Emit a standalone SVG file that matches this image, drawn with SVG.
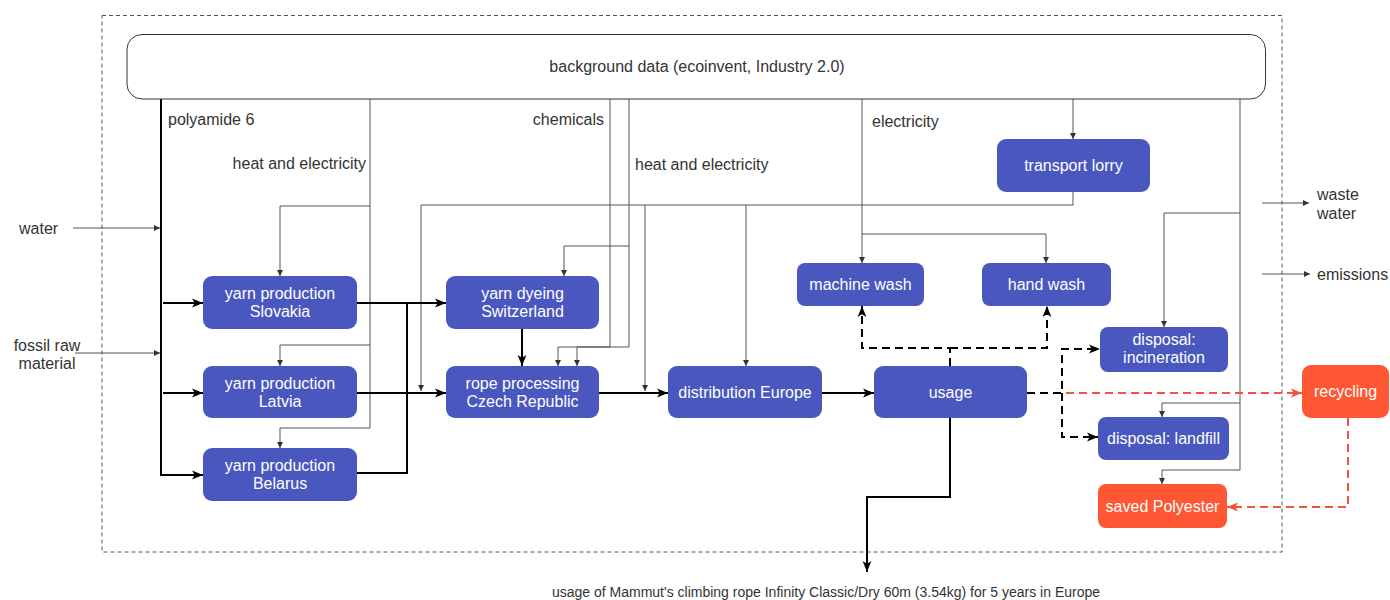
<svg xmlns="http://www.w3.org/2000/svg" width="1390" height="600" viewBox="0 0 1390 600">
<defs>
<style>
text{font-family:"Liberation Sans",Arial,sans-serif;font-size:16px}
.lbl{fill:#333}
.nt{fill:#fff;text-anchor:middle}
.blue{fill:#4957BF}
.orange{fill:#FF5733}
.thin{fill:none;stroke:#555;stroke-width:1}
.thick{fill:none;stroke:#000;stroke-width:2}
.dash{fill:none;stroke:#000;stroke-width:2;stroke-dasharray:8 5}
.rdash{fill:none;stroke:#F0553A;stroke-width:2;stroke-dasharray:8 5}
</style>
<marker id="as" viewBox="0 0 6 6" refX="6" refY="3" markerWidth="6" markerHeight="6" markerUnits="userSpaceOnUse" orient="auto"><path d="M0,0 L6,3 L0,6 z" fill="#333"/></marker>
<marker id="ab" viewBox="0 0 10 10" refX="10" refY="5" markerWidth="11" markerHeight="11" markerUnits="userSpaceOnUse" orient="auto"><path d="M0,1 L10,5 L0,9 L2.5,5 z" fill="#000"/></marker>
<marker id="ar" viewBox="0 0 10 10" refX="10" refY="5" markerWidth="11" markerHeight="11" markerUnits="userSpaceOnUse" orient="auto"><path d="M0,1 L10,5 L0,9 L2.5,5 z" fill="#F0553A"/></marker>
</defs>
<rect width="1390" height="600" fill="#fff"/>
<rect id="boundary" x="102" y="15.5" width="1180" height="536.5" fill="none" stroke="#555" stroke-width="1" stroke-dasharray="4 3"/>

<g id="connectors">
<!-- thin inputs -->
<path class="thin" d="M73,228 H160" marker-end="url(#as)"/>
<path class="thin" d="M75,353 H160" marker-end="url(#as)"/>
<path class="thin" d="M370,99 V428 H280 V448" marker-end="url(#as)"/>
<path class="thin" d="M370,206 H280 V276" marker-end="url(#as)"/>
<path class="thin" d="M370,345 H280 V366" marker-end="url(#as)"/>
<path class="thin" d="M610,99 V347 H558 V366" marker-end="url(#as)"/>
<path class="thin" d="M629,99 V347 H577 V366" marker-end="url(#as)"/>
<path class="thin" d="M629,246 H564 V276" marker-end="url(#as)"/>
<path class="thin" d="M1073,99 V139" marker-end="url(#as)"/>
<path class="thin" d="M1073,192 V205 H421 V391" marker-end="url(#as)"/>
<path class="thin" d="M645,205 V391" marker-end="url(#as)"/>
<path class="thin" d="M746,205 V366" marker-end="url(#as)"/>
<path class="thin" d="M862,99 V263" marker-end="url(#as)"/>
<path class="thin" d="M862,234 H1046 V263" marker-end="url(#as)"/>
<path class="thin" d="M1240,99 V470 H1162 V484" marker-end="url(#as)"/>
<path class="thin" d="M1240,213 H1164 V327" marker-end="url(#as)"/>
<path class="thin" d="M1240,403 H1162 V417" marker-end="url(#as)"/>
<path class="thin" d="M1262,203 H1309" marker-end="url(#as)"/>
<path class="thin" d="M1262,274 H1310" marker-end="url(#as)"/>
<!-- thick main flow -->
<path class="thick" d="M161,99 V475 H203" marker-end="url(#ab)"/>
<path class="thick" d="M163,303 H203" marker-end="url(#ab)"/>
<path class="thick" d="M163,393 H203" marker-end="url(#ab)"/>
<path class="thick" d="M357,303 H446" marker-end="url(#ab)"/>
<path class="thick" d="M357,393 H446" marker-end="url(#ab)"/>
<path class="thick" d="M357,473 H407 V303"/>
<path class="thick" d="M522,329 V366" marker-end="url(#ab)"/>
<path class="thick" d="M599,393 H668" marker-end="url(#ab)"/>
<path class="thick" d="M822,393 H874" marker-end="url(#ab)"/>
<path class="thick" d="M950,418 V497 H867 V572" marker-end="url(#ab)"/>
<!-- dashed -->
<path class="dash" d="M950,366 V348 H862 V306" marker-end="url(#ab)"/>
<path class="dash" d="M950,348 H1047 V306" marker-end="url(#ab)"/>
<path class="rdash" d="M1027,393 H1302" marker-end="url(#ar)"/>
<path class="dash" d="M1027,393 H1062 V349 H1100" marker-end="url(#ab)"/>
<path class="dash" d="M1062,393 V437 H1098" marker-end="url(#ab)"/>
<path class="rdash" d="M1348,418 V507 H1227" marker-end="url(#ar)"/>
</g>

<g id="background-data">
<rect x="127" y="34.5" width="1138.5" height="64.5" rx="15" fill="#fff" stroke="#333" stroke-width="1"/>
<text x="697" y="72" class="lbl" text-anchor="middle">background data (ecoinvent, Industry 2.0)</text>
</g>

<g id="labels">
<text x="168" y="125" class="lbl">polyamide 6</text>
<text x="366" y="169" class="lbl" text-anchor="end">heat and electricity</text>
<text x="604" y="125" class="lbl" text-anchor="end">chemicals</text>
<text x="635" y="170" class="lbl">heat and electricity</text>
<text x="872" y="127" class="lbl">electricity</text>
<text x="19" y="233.5" class="lbl">water</text>
<text x="47" y="351" class="lbl" text-anchor="middle">fossil raw</text>
<text x="47" y="369" class="lbl" text-anchor="middle">material</text>
<text x="1317" y="200" class="lbl">waste</text>
<text x="1317" y="219" class="lbl">water</text>
<text x="1317" y="280" class="lbl">emissions</text>
<text x="826" y="597" class="lbl" text-anchor="middle" style="font-size:14px">usage of Mammut's climbing rope Infinity Classic/Dry 60m (3.54kg) for 5 years in Europe</text>
</g>

<g id="yarn-slovakia">
<rect x="203" y="276" width="154" height="53" rx="9" class="blue"/>
<text x="280" y="299" class="nt">yarn production</text>
<text x="280" y="317" class="nt">Slovakia</text>
</g>
<g id="yarn-latvia">
<rect x="203" y="366" width="154" height="52" rx="9" class="blue"/>
<text x="280" y="388.5" class="nt">yarn production</text>
<text x="280" y="406.5" class="nt">Latvia</text>
</g>
<g id="yarn-belarus">
<rect x="203" y="448" width="154" height="53" rx="9" class="blue"/>
<text x="280" y="471" class="nt">yarn production</text>
<text x="280" y="489" class="nt">Belarus</text>
</g>
<g id="yarn-dyeing">
<rect x="446" y="276" width="153" height="53" rx="9" class="blue"/>
<text x="522.5" y="299" class="nt">yarn dyeing</text>
<text x="522.5" y="317" class="nt">Switzerland</text>
</g>
<g id="rope-processing">
<rect x="446" y="366" width="153" height="52" rx="9" class="blue"/>
<text x="522.5" y="388.5" class="nt">rope processing</text>
<text x="522.5" y="406.5" class="nt">Czech Republic</text>
</g>
<g id="distribution">
<rect x="668" y="366" width="154" height="52" rx="9" class="blue"/>
<text x="745" y="397.5" class="nt">distribution Europe</text>
</g>
<g id="usage">
<rect x="874" y="366" width="153" height="52" rx="9" class="blue"/>
<text x="950.5" y="397.5" class="nt">usage</text>
</g>
<g id="machine-wash">
<rect x="797" y="263" width="127" height="43" rx="8" class="blue"/>
<text x="860.5" y="290" class="nt">machine wash</text>
</g>
<g id="hand-wash">
<rect x="982" y="263" width="129" height="43" rx="8" class="blue"/>
<text x="1046.5" y="290" class="nt">hand wash</text>
</g>
<g id="transport-lorry">
<rect x="997" y="139" width="153" height="53" rx="9" class="blue"/>
<text x="1073.5" y="171" class="nt">transport lorry</text>
</g>
<g id="incineration">
<rect x="1100" y="327" width="128" height="45" rx="8" class="blue"/>
<text x="1164" y="345" class="nt">disposal:</text>
<text x="1164" y="363" class="nt">incineration</text>
</g>
<g id="landfill">
<rect x="1098" y="417" width="131" height="43" rx="8" class="blue"/>
<text x="1163.5" y="444" class="nt">disposal: landfill</text>
</g>
<g id="saved-polyester">
<rect x="1098" y="484" width="129" height="44" rx="8" class="orange"/>
<text x="1162.5" y="511.5" class="nt">saved Polyester</text>
</g>
<g id="recycling">
<rect x="1302" y="365" width="87" height="53" rx="9" class="orange"/>
<text x="1345.5" y="397" class="nt">recycling</text>
</g>
</svg>
